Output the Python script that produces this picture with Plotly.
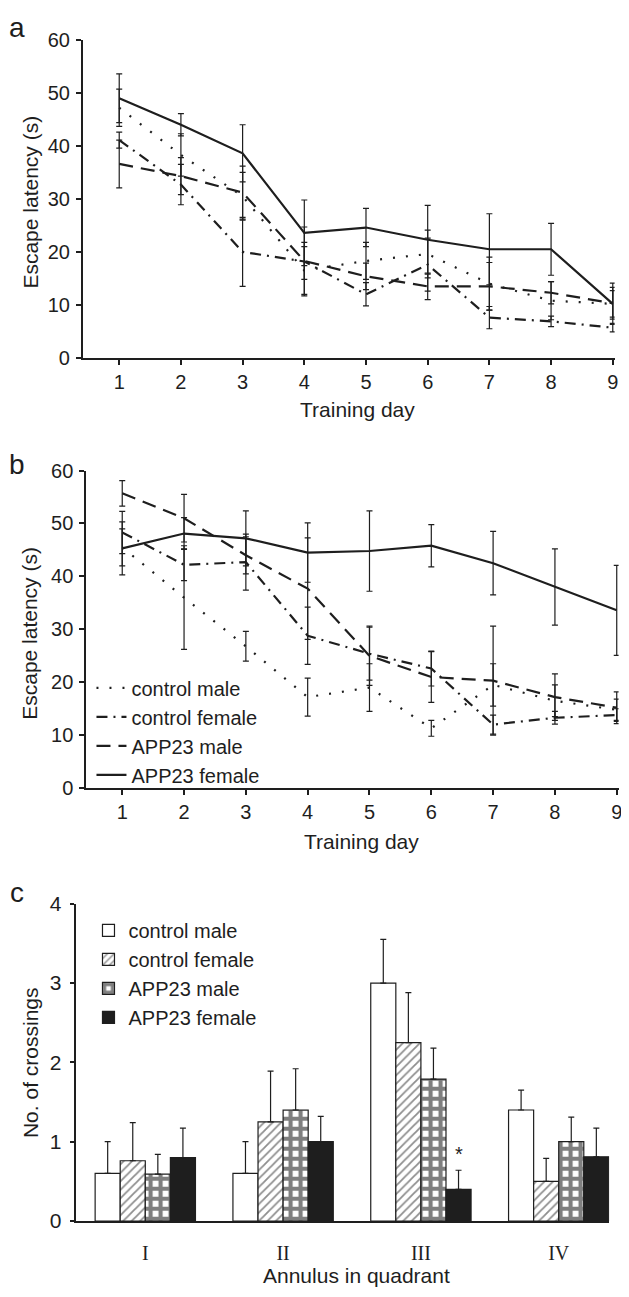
import plotly.graph_objects as go

W, H = 629, 1297

# ---------------- data ----------------
days = [1, 2, 3, 4, 5, 6, 7, 8, 9]
groups = ["control male", "control female", "APP23 male", "APP23 female"]

# panel a: escape latency (s)
a_ctrl_male = [47.2, 38.3, 30.5, 16.5, 18.3, 19.6, 14.0, 10.8, 10.2]
a_ctrl_male_err = [3.5, 4.0, 4.5, 4.5, 3.5, 4.5, 5.0, 3.6, 2.5]
a_ctrl_female = [41.1, 32.7, 20.0, 18.2, 12.0, 17.6, 7.6, 6.9, 5.7]
a_ctrl_female_err = [1.5, 3.8, 6.5, 6.5, 2.2, 5.0, 2.1, 1.0, 0.8]
a_app_male = [36.6, 34.3, 31.2, 18.3, 15.4, 13.5, 13.5, 12.3, 10.3]
a_app_male_err = [4.5, 3.5, 5.0, 3.5, 2.5, 2.5, 4.5, 2.1, 3.0]
a_app_female = [49.0, 44.0, 38.6, 23.6, 24.6, 22.3, 20.5, 20.5, 10.2]
a_app_female_err = [4.6, 2.1, 5.4, 6.2, 3.6, 6.5, 6.7, 4.9, 3.9]

# panel b: escape latency (s)
b_ctrl_male = [45.5, 36.0, 26.8, 17.2, 19.0, 11.3, 19.5, 16.5, 14.8]
b_ctrl_male_err = [3.5, 9.8, 2.8, 3.6, 4.5, 1.5, 4.0, 3.0, 2.0]
b_ctrl_female = [48.3, 42.2, 42.7, 28.8, 25.4, 22.6, 12.0, 13.3, 13.8]
b_ctrl_female_err = [4.0, 3.0, 5.3, 5.4, 5.0, 3.3, 1.8, 1.2, 1.2]
b_app_male = [55.7, 51.0, 44.0, 37.7, 25.0, 21.0, 20.3, 17.2, 15.2]
b_app_male_err = [2.4, 4.5, 3.5, 9.6, 5.6, 4.8, 10.3, 4.4, 3.0]
b_app_female = [45.3, 48.1, 47.2, 44.5, 44.8, 45.8, 42.5, 38.0, 33.6]
b_app_female_err = [5.0, 3.0, 5.2, 5.6, 7.6, 4.0, 6.0, 7.2, 8.5]

# panel c: number of crossings
quadrants = ["I", "II", "III", "IV"]
c_ctrl_male = [0.60, 0.60, 3.00, 1.40]
c_ctrl_male_err = [0.40, 0.40, 0.55, 0.25]
c_ctrl_female = [0.76, 1.25, 2.25, 0.50]
c_ctrl_female_err = [0.48, 0.64, 0.63, 0.29]
c_app_male = [0.59, 1.40, 1.79, 1.00]
c_app_male_err = [0.25, 0.52, 0.39, 0.31]
c_app_female = [0.80, 1.00, 0.40, 0.81]
c_app_female_err = [0.37, 0.32, 0.24, 0.36]
sig_quadrant = "III"
sig_group = "APP23 female"
sig_label = "*"

# ---------------- styles ----------------
INK = "#1e1e1e"
FONT = "Liberation Sans, Arial, sans-serif"
SERIF = "Liberation Serif, Times New Roman, serif"
TICK_SIZE = 20
TITLE_SIZE = 21
dashes = {
    "control male": "2px,11px",
    "control female": "11px,6px,2px,6px",
    "APP23 male": "14px,8px",
    "APP23 female": "solid",
}

# the page body adds an 8px margin; place everything relative to the visible window
OFF = 8


def px_x(p):
    return (p - OFF) / W


def px_y(p):
    return 1 - (p - OFF) / H


fig = go.Figure()


def add_lines(xa, ya, series, showlegend):
    for name, vals, errs in series:
        fig.add_trace(go.Scatter(
            x=days, y=vals, name=name, mode="lines",
            line=dict(color=INK, width=2.2, dash=dashes[name]),
            error_y=dict(type="data", array=errs, visible=True,
                         color=INK, thickness=1.2, width=3),
            xaxis=xa, yaxis=ya, showlegend=showlegend,
            legendgroup=("b_" + name) if showlegend else None,
            legend="legend",
        ))


add_lines("x", "y", [
    ("control male", a_ctrl_male, a_ctrl_male_err),
    ("control female", a_ctrl_female, a_ctrl_female_err),
    ("APP23 male", a_app_male, a_app_male_err),
    ("APP23 female", a_app_female, a_app_female_err),
], False)

add_lines("x2", "y2", [
    ("control male", b_ctrl_male, b_ctrl_male_err),
    ("control female", b_ctrl_female, b_ctrl_female_err),
    ("APP23 male", b_app_male, b_app_male_err),
    ("APP23 female", b_app_female, b_app_female_err),
], True)

bar_styles = {
    "control male": dict(color="white", pattern=dict(shape="")),
    "control female": dict(color="white", pattern=dict(shape="/", fgcolor=INK, bgcolor="white",
                                                       size=6, solidity=0.3)),
    "APP23 male": dict(color="white", pattern=dict(shape="+", fgcolor="#000000", bgcolor="white",
                                                   size=10, solidity=0.66)),
    "APP23 female": dict(color=INK, pattern=dict(shape="")),
}
for name, vals, errs in [
    ("control male", c_ctrl_male, c_ctrl_male_err),
    ("control female", c_ctrl_female, c_ctrl_female_err),
    ("APP23 male", c_app_male, c_app_male_err),
    ("APP23 female", c_app_female, c_app_female_err),
]:
    st = bar_styles[name]
    fig.add_trace(go.Bar(
        x=quadrants, y=vals, name=name,
        marker=dict(color=st["color"], line=dict(color=INK, width=1.2), pattern=st["pattern"]),
        error_y=dict(type="data", array=errs, arrayminus=[0] * len(errs), symmetric=False,
                     visible=True, color=INK, thickness=1.2, width=3),
        xaxis="x3", yaxis="y3", legend="legend2", legendgroup="c_" + name,
    ))

BARGAP = 0.272
n_groups = len(groups)
bar_w = (1 - BARGAP) / n_groups
gi = groups.index(sig_group)
qi = quadrants.index(sig_quadrant)
sig_x = qi + (gi - (n_groups - 1) / 2) * bar_w
sig_y = c_app_female[qi] + c_app_female_err[qi]

# ---------------- axes ----------------
line_axis = dict(showline=True, linecolor=INK, linewidth=1.8, ticks="outside", ticklen=5,
                 tickwidth=1.5, tickcolor=INK, showgrid=False, zeroline=False,
                 tickfont=dict(family=FONT, size=TICK_SIZE, color=INK))

fig.update_layout(
    width=W, height=H, margin=dict(l=0, r=0, t=0, b=0),
    plot_bgcolor="white", paper_bgcolor="white",
    font=dict(family=FONT, color=INK, size=TITLE_SIZE),
    barmode="group", bargap=BARGAP, bargroupgap=0,
    xaxis=dict(line_axis, domain=[px_x(83.3), px_x(618.5)], range=[0.41, 9.03],
               tickvals=days, anchor="y", ticklabelstandoff=0),
    yaxis=dict(line_axis, domain=[px_y(352), px_y(28.3)], range=[0, 60],
               tickvals=[0, 10, 20, 30, 40, 50, 60], anchor="x", ticklabelstandoff=2),
    xaxis2=dict(line_axis, domain=[px_x(86.7), px_x(622.5)], range=[0.417, 9.03],
                tickvals=days, anchor="y2", ticklabelstandoff=0),
    yaxis2=dict(line_axis, domain=[px_y(790), px_y(466.7)], range=[0, 60],
                tickvals=[0, 10, 20, 30, 40, 50, 60], anchor="x2", ticklabelstandoff=2),
    xaxis3=dict(showline=True, linecolor=INK, linewidth=1.8, ticks="", showgrid=False,
                zeroline=False, domain=[px_x(76), px_x(613)], range=[-0.506, 3.366],
                tickfont=dict(family=SERIF, size=20, color=INK), anchor="y3",
                ticklabelstandoff=13),
    yaxis3=dict(showline=True, linecolor=INK, linewidth=1.8, ticks="outside", ticklen=4,
                tickwidth=1.5, tickcolor=INK, showgrid=False, zeroline=False,
                domain=[px_y(1230.7), px_y(907.7)], range=[0, 4], tickvals=[0, 1, 2, 3, 4],
                tickfont=dict(family=FONT, size=21, color=INK), anchor="x3",
                ticklabelstandoff=4),
    legend=dict(x=px_x(92), y=px_y(668), xanchor="left", yanchor="top",
                bgcolor="rgba(0,0,0,0)", font=dict(family=FONT, size=20, color=INK),
                tracegroupgap=0, itemwidth=30),
    legend2=dict(x=px_x(89), y=px_y(915), xanchor="left", yanchor="top",
                 bgcolor="rgba(0,0,0,0)", font=dict(family=FONT, size=20, color=INK),
                 tracegroupgap=0, itemwidth=30),
)

annotations = [
    dict(text="a", x=px_x(17), y=px_y(16), font=dict(size=28)),
    dict(text="b", x=px_x(17), y=px_y(461), font=dict(size=28)),
    dict(text="c", x=px_x(17), y=px_y(896), font=dict(size=28)),
    dict(text="Escape latency (s)", x=px_x(31), y=px_y(193), textangle=-90),
    dict(text="Escape latency (s)", x=px_x(30), y=px_y(632), textangle=-90),
    dict(text="No. of crossings", x=px_x(30), y=px_y(1069), textangle=-90),
    dict(text="Training day", x=px_x(360), y=px_y(405)),
    dict(text="Training day", x=px_x(364), y=px_y(844)),
    dict(text="Annulus in quadrant", x=px_x(359), y=px_y(1286)),
]
for a in annotations:
    a.update(xref="paper", yref="paper", showarrow=False, xanchor="center", yanchor="middle")
    a.setdefault("font", {})
    a["font"] = dict(dict(family=FONT, size=TITLE_SIZE, color=INK), **a["font"])
    fig.add_annotation(**a)

fig.add_annotation(x=sig_x, y=sig_y, xref="x3", yref="y3", text=sig_label, showarrow=False,
                   yanchor="bottom", yshift=3, font=dict(family=FONT, size=20, color=INK))

fig.write_html("out.html")
